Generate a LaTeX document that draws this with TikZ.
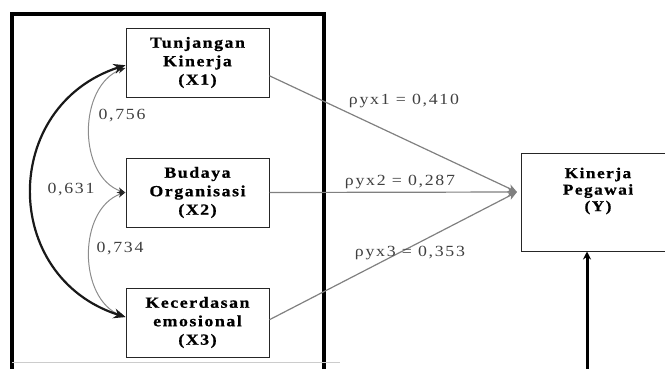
\documentclass[tikz,border=0pt]{standalone}
\usepackage{fontspec}
\setmainfont{Liberation Serif}
\newfontfamily\dfont[FakeStretch=1.15,LetterSpace=10,BoldFeatures={FakeBold=0.8}]{Liberation Serif}
\newfontfamily\lfont[FakeStretch=1.15,LetterSpace=11]{Liberation Serif}
\usetikzlibrary{arrows.meta,calc,bending}
\begin{document}
\begin{tikzpicture}[x=1pt,y=-1pt,
  box/.style={draw=black!85, line width=1pt, minimum width=143pt, minimum height=69pt, inner sep=0pt},
  btxt/.style={font=\dfont\bfseries\fontsize{15.5}{18.5}\selectfont, align=center},
  ytxt/.style={font=\dfont\bfseries\fontsize{15}{16.5}\selectfont, align=center, inner sep=0pt},
  lbl/.style={font=\lfont\fontsize{15.5}{16}\selectfont, text=black!75, inner sep=0pt},
  conn/.style={draw=black!50, line width=1.2pt, -{Stealth[length=9pt,width=8pt,inset=2.5pt]}},
  corrthick/.style={draw=black!90, line width=2.2pt, {Stealth[bend,length=12pt,width=10pt]}-{Stealth[bend,length=12pt,width=10pt]}},
  corrthin/.style={draw=black!45, line width=1pt, {Stealth[bend,length=8pt,width=6pt,color=black!85]}-{Stealth[bend,length=8pt,width=6pt,color=black!85]}}
]
\useasboundingbox (0,0) rectangle (665,368);
% outer frame
\draw[line width=3.5pt] (12,380) -- (12,14) -- (324,14) -- (324,380);
\draw[black!20, line width=0.8pt] (12,362) -- (340,362);
% boxes
\node[box, btxt] (x1) at (197.5,62.5) {Tunjangan\\Kinerja\\(X1)};
\node[box, btxt] (x2) at (197.5,192.5) {Budaya\\Organisasi\\(X2)};
\node[box, btxt] (x3) at (197.5,322.5) {Kecerdasan\\emosional\\(X3)};
\node[draw=black!85, line width=1pt, minimum width=180pt, minimum height=98pt, inner sep=0pt] (ybox) at (611,202) {};
\node[ytxt] (ylab) at (598,191) {Kinerja\\Pegawai\\(Y)};
% paths to Y
\coordinate (tip) at (517,192);
\draw[conn] ($(x1.north east)!0.69!(x1.south east)$) -- (tip);
\draw[conn] (x2.east) -- (tip);
\draw[conn] ($(x3.north east)!0.46!(x3.south east)$) -- (tip);
\node[lbl] (r1) at (404,101) {ρyx1 = 0,410};
\node[lbl] (r2) at (400,182) {ρyx2 = 0,287};
\node[lbl] (r3) at (410,253) {ρyx3 = 0,353};
% correlations
\draw[corrthin] ($(x1.north west)!0.58!(x1.south west)$) .. controls (76,80) and (76,182) .. (x2.west);
\draw[corrthin] (x2.west) .. controls (76,203) and (76,305) .. ($(x3.north west)!0.42!(x3.south west)$);
\draw[corrthick] ($(x1.north west)!0.54!(x1.south west)$) .. controls (-2,100) and (-2,283) .. ($(x3.north west)!0.42!(x3.south west)$);
\node[lbl] (c1) at (122,116) {0,756};
\node[lbl] (c2) at (71,190) {0,631};
\node[lbl] (c3) at (120,249) {0,734};
% residual arrow
\coordinate (vb) at (587,380);
\draw[line width=3pt, -{Stealth[length=8pt,width=8pt]}] (vb) -- (vb |- ybox.south);
\end{tikzpicture}
\end{document}
